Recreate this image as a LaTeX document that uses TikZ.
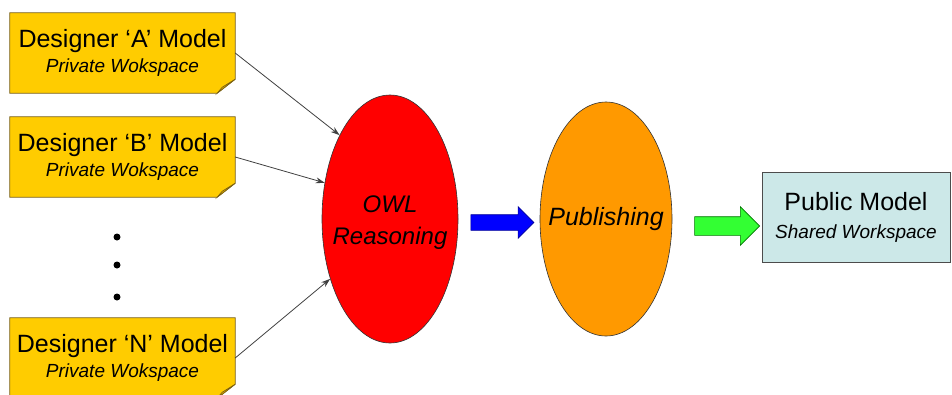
\documentclass[tikz,border=0pt]{standalone}
\usepackage{fontspec}
\setmainfont{Liberation Sans}
\usepackage{xcolor}
\usetikzlibrary{shapes.geometric,shapes.arrows,arrows.meta,backgrounds}

\definecolor{noteyellow}{RGB}{255,204,0}
\definecolor{noteedge}{RGB}{120,95,20}
\definecolor{notefold}{RGB}{215,165,0}
\definecolor{owlred}{RGB}{255,0,0}
\definecolor{puborange}{RGB}{255,153,0}
\definecolor{pubbox}{RGB}{204,232,232}
\definecolor{blockgreen}{RGB}{51,255,51}

\tikzset{
  note/.style={minimum width=225pt,minimum height=80pt,inner sep=0pt,align=center,
    font=\fontsize{25}{25}\selectfont},
  bubble/.style={ellipse,draw=black!80,inner sep=0pt,line width=0.6pt},
  bubbletext/.style={align=center,font=\fontsize{24}{32}\selectfont\itshape},
  feed/.style={-{Stealth[length=9pt,width=6pt]},black!75,line width=0.8pt},
  block/.style={single arrow,inner sep=0pt,line width=0.6pt,text depth=0pt}
}

\begin{document}
\begin{tikzpicture}[x=1pt,y=-1pt]
\clip(0,0)rectangle(952,394);
\node[note](dA)at(122.5,53){Designer ‘A’ Model\\{\fontsize{19}{26}\selectfont\itshape Private Wokspace}};
\node[note](dB)at(122.5,157){Designer ‘B’ Model\\{\fontsize{19}{26}\selectfont\itshape Private Wokspace}};
\node[note](dN)at(122.5,358){Designer ‘N’ Model\\{\fontsize{19}{26}\selectfont\itshape Private Wokspace}};
\begin{scope}[on background layer]
\foreach \b in {dA,dB,dN}{
  \filldraw[fill=noteyellow,draw=noteedge,line width=0.8pt](\b.north west)--(\b.north east)--([yshift=14pt]\b.south east)--([xshift=-18pt]\b.south east)--(\b.south west)--cycle;
  \filldraw[fill=notefold,draw=noteedge,line width=0.6pt]([xshift=-18pt]\b.south east)--([yshift=14pt]\b.south east)--([xshift=-13pt,yshift=6pt]\b.south east)--cycle;
}
\end{scope}
\foreach \y in {237,265,297}\fill[black](117,\y)circle(3.5pt);
\node[bubble,fill=owlred,minimum width=136pt,minimum height=248pt,
  label={[bubbletext,yshift=-4pt]center:OWL\\Reasoning}](owl)at(390,219){};
\node[bubble,fill=puborange,minimum width=132pt,minimum height=234pt,
  label={[bubbletext,font=\fontsize{25}{30}\selectfont\itshape]center:Publishing}](pub)at(606,219){};
\node[draw=black!70,fill=pubbox,line width=0.8pt,minimum width=188pt,minimum height=90pt,inner sep=0pt,align=center,
  font=\fontsize{25}{28}\selectfont,yshift=0pt](shared)at(856,217){Public Model\\{\fontsize{19}{26}\selectfont\itshape Shared Workspace}};
\draw[feed](dA.east)--(owl.121);
\draw[feed](dB.east)--(owl.151);
\draw[feed](dN.east)--(owl.225);
\node[block,fill=blue,draw=blue!60!black,minimum height=63pt,text height=15pt,single arrow head extend=8pt](toPub)at(498.5,222.5){};
\node[block,fill=blockgreen,draw=green!45!black,minimum height=65pt,text height=18pt,single arrow head extend=10pt](toShared)at(722.5,226){};
\end{tikzpicture}
\end{document}
